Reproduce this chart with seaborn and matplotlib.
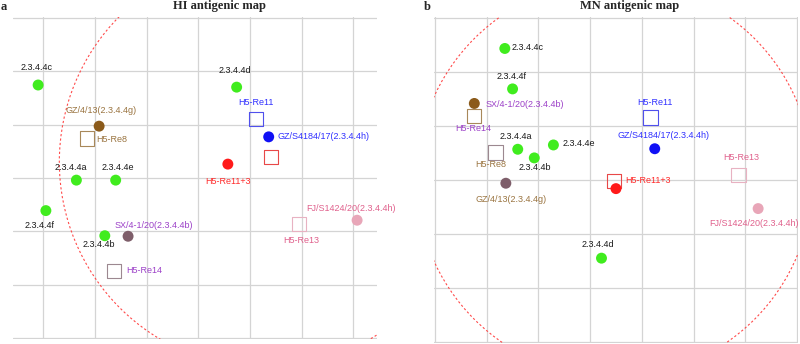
import numpy as np
import pandas as pd
import matplotlib.pyplot as plt
import seaborn as sns
from matplotlib.patches import Ellipse

# ---- data (grid units) ----
antigen_names = ['2.3.4.4c', '2.3.4.4d', 'GZ/4/13(2.3.4.4g)', 'GZ/S4184/17(2.3.4.4h)',
                 'H5-Re11+3', '2.3.4.4a', '2.3.4.4e', '2.3.4.4f', '2.3.4.4b',
                 'SX/4-1/20(2.3.4.4b)', 'FJ/S1424/20(2.3.4.4h)']
hi_antigen_x = [-0.10, 3.74, 1.08, 4.36, 3.57, 0.64, 1.40, 0.05, 1.19, 1.64, 6.07]
hi_antigen_y = [4.74, 4.70, 3.97, 3.77, 3.26, 2.96, 2.96, 2.39, 1.92, 1.91, 2.21]
mn_antigen_x = [0.35, 2.22, 0.37, 3.25, 2.50, 0.60, 1.29, 0.50, 0.92, -0.24, 5.25]
mn_antigen_y = [5.44, 1.55, 2.94, 3.58, 2.84, 3.57, 3.65, 4.69, 3.41, 4.42, 2.47]

serum_names = ['H5-Re8', 'H5-Re11', 'H5-Re11+3', 'H5-Re14', 'H5-Re13']
serum_labels = ['H5-Re8', 'H5-Re11', '', 'H5-Re14', 'H5-Re13']
hi_serum_x = [0.85, 4.12, 4.41, 1.37, 4.95]
hi_serum_y = [3.74, 4.10, 3.39, 1.26, 2.14]
mn_serum_x = [0.17, 3.17, 2.46, -0.25, 4.87]
mn_serum_y = [3.51, 4.16, 2.98, 4.19, 3.09]

# ---- styles ----
GREEN = '#40ec1e'
BROWN = '#8b5a1a'
MAUVE = '#7e5e6a'
marker_a = {'2.3.4.4c': GREEN, '2.3.4.4d': GREEN, '2.3.4.4a': GREEN, '2.3.4.4e': GREEN,
            '2.3.4.4f': GREEN, '2.3.4.4b': GREEN,
            'GZ/4/13(2.3.4.4g)': BROWN, 'SX/4-1/20(2.3.4.4b)': MAUVE,
            'GZ/S4184/17(2.3.4.4h)': '#1010f5', 'H5-Re11+3': '#ff1a1a',
            'FJ/S1424/20(2.3.4.4h)': '#e8a6b8'}
marker_b = dict(marker_a)
marker_b['GZ/4/13(2.3.4.4g)'] = MAUVE
marker_b['SX/4-1/20(2.3.4.4b)'] = BROWN
square_a = {'H5-Re8': '#a8885a', 'H5-Re11': '#5050ec', 'H5-Re11+3': '#e84848',
            'H5-Re14': '#9c8890', 'H5-Re13': '#e8b2c2'}
square_b = dict(square_a)
square_b['H5-Re8'] = '#9c8890'
square_b['H5-Re14'] = '#a8885a'

label_color = {'GZ/4/13(2.3.4.4g)': '#9a7440', 'H5-Re8': '#9a7440',
               'SX/4-1/20(2.3.4.4b)': '#9c40c8', 'H5-Re14': '#9c40c8',
               'GZ/S4184/17(2.3.4.4h)': '#3030ff', 'H5-Re11': '#3030ff',
               'H5-Re11+3': '#ff2a2a',
               'FJ/S1424/20(2.3.4.4h)': '#e0608c', 'H5-Re13': '#e0608c'}

# label offsets in pixels (dx, dy, ha)
off_a = {'2.3.4.4c': (-2, 18, 'center'), '2.3.4.4d': (-2, 17, 'center'),
         'GZ/4/13(2.3.4.4g)': (2, 16, 'center'), 'GZ/S4184/17(2.3.4.4h)': (9, 0, 'left'),
         'H5-Re11+3': (0, -17, 'center'), '2.3.4.4a': (-6, 13, 'center'),
         '2.3.4.4e': (2, 13, 'center'), '2.3.4.4f': (-6, -15, 'center'),
         '2.3.4.4b': (-6, -9, 'center'), 'SX/4-1/20(2.3.4.4b)': (26, 11, 'center'),
         'FJ/S1424/20(2.3.4.4h)': (-6, 12, 'center')}
off_sa = {'H5-Re8': (9, -1, 'left'), 'H5-Re11': (0, 17, 'center'),
          'H5-Re14': (12, 0, 'left'), 'H5-Re13': (2, -17, 'center')}
off_b = {'2.3.4.4c': (7, 1, 'left'), '2.3.4.4d': (-4, 14, 'center'),
         'GZ/4/13(2.3.4.4g)': (5, -16, 'center'), 'GZ/S4184/17(2.3.4.4h)': (9, 13, 'center'),
         'H5-Re11+3': (9, 8, 'left'), '2.3.4.4a': (-2, 13, 'center'),
         '2.3.4.4e': (9, 1, 'left'), '2.3.4.4f': (-1, 12, 'center'),
         '2.3.4.4b': (1, -10, 'center'), 'SX/4-1/20(2.3.4.4b)': (11, -1, 'left'),
         'FJ/S1424/20(2.3.4.4h)': (-4, -15, 'center')}
off_sb = {'H5-Re8': (-5, -12, 'center'), 'H5-Re11': (4, 15, 'center'),
          'H5-Re14': (-1, -13, 'center'), 'H5-Re13': (3, 18, 'center')}

sns.set_style('white')
plt.rcParams['font.family'] = ['Liberation Sans', 'DejaVu Sans']

fig = plt.figure(figsize=(8, 3.44), dpi=100)
W, H = 800, 344


def make_ax(l, r, t, b):
    return fig.add_axes([l / W, 1 - b / H, (r - l) / W, (b - t) / H])


def draw_panel(ax, ax_, ay_, sx_, sy_, mcol, scol, off, soff, xlim, xticks, circ):
    ant = pd.DataFrame({'name': antigen_names, 'x': ax_, 'y': ay_})
    ser = pd.DataFrame({'name': serum_names, 'label': serum_labels, 'x': sx_, 'y': sy_})

    ax.set_xlim(*xlim)
    ax.set_ylim(-0.02, 6.02)
    ax.set_xticks(xticks)
    ax.set_yticks(range(0, 7))
    ax.grid(True, color='#d4d4d4', lw=0.9)
    ax.set_axisbelow(True)
    ax.tick_params(length=0, labelbottom=False, labelleft=False)
    for s in ax.spines.values():
        s.set_visible(False)

    ax.add_patch(Ellipse(circ[:2], circ[2], circ[3], fill=False, ec='#ff4a4a',
                         lw=0.8, ls=(0, (2, 2)), zorder=1))

    sns.scatterplot(data=ser, x='x', y='y', hue='name', palette=scol, marker='s',
                    s=105, legend=False, ax=ax, zorder=2)
    sq = ax.collections[-1]
    sq.set_edgecolors(sq.get_facecolors())
    sq.set_facecolor('none')
    sq.set_linewidth(0.8)

    sns.scatterplot(data=ant, x='x', y='y', hue='name', palette=mcol, marker='o',
                    s=62, linewidth=0, legend=False, ax=ax, zorder=3)

    for _, r in ant.iterrows():
        dx, dy, ha = off[r['name']]
        ax.annotate(r['name'], (r['x'], r['y']), xytext=(dx, dy), textcoords='offset pixels',
                    ha=ha, va='center', fontsize=6.5,
                    color=label_color.get(r['name'], '#1a1a1a'), annotation_clip=False)
    for _, r in ser.iterrows():
        if not r['label']:
            continue
        dx, dy, ha = soff[r['name']]
        ax.annotate(r['label'], (r['x'], r['y']), xytext=(dx, dy), textcoords='offset pixels',
                    ha=ha, va='center', fontsize=6.5,
                    color=label_color[r['name']], annotation_clip=False)
    ax.set_xlabel('')
    ax.set_ylabel('')


ax_a = make_ax(13, 377, 16.6, 339.4)
draw_panel(ax_a, hi_antigen_x, hi_antigen_y, hi_serum_x, hi_serum_y, marker_a, square_a,
           off_a, off_sa, (-0.586, 6.455), range(0, 7), (4.29, 3.30, 7.96, 7.71))

ax_b = make_ax(434.3, 798, 17.2, 342.8)
draw_panel(ax_b, mn_antigen_x, mn_antigen_y, mn_serum_x, mn_serum_y, marker_b, square_b,
           off_b, off_sb, (-1.014, 6.021), range(-1, 7), (2.47, 3.02, 7.67, 7.36))

serif = ['Liberation Serif', 'DejaVu Serif']
fig.text(219 / W, 1 - 6.5 / H, 'HI antigenic map', ha='center', va='center',
         fontsize=9, fontweight='bold', family=serif)
fig.text(630 / W, 1 - 6.5 / H, 'MN antigenic map', ha='center', va='center',
         fontsize=9, fontweight='bold', family=serif)
fig.text(1 / W, 1 - 6.5 / H, 'a', ha='left', va='center', fontsize=9, fontweight='bold', family=serif)
fig.text(424 / W, 1 - 6.5 / H, 'b', ha='left', va='center', fontsize=9, fontweight='bold', family=serif)

fig.savefig('out.png', dpi=100)
